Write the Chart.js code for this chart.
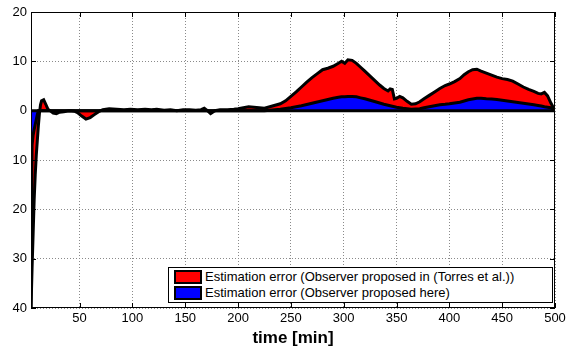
<!DOCTYPE html>
<html>
<head>
<meta charset="utf-8">
<script src="https://cdn.jsdelivr.net/npm/chart.js@4/dist/chart.umd.min.js"></script>
<style>
  body { margin: 0; background: #fff; }
  #wrap { position: relative; width: 570px; height: 347px; }
  #leyenda {
    position: absolute; left: 168px; top: 267px; width: 383px; height: 34px;
    border: 1px solid #000; background: #fff;
    font-family: "Liberation Sans", Arial, sans-serif; font-size: 13px; color: #000;
  }
  .fila { position: absolute; left: 5px; height: 14px; line-height: 14px; white-space: nowrap; }
  .caja { display: inline-block; width: 24px; height: 10px; border: 2px solid #000; vertical-align: top; margin-right: 3px; }
</style>
</head>
<body>
<div id="wrap">
  <canvas id="grafico" width="570" height="347"></canvas>
  <div id="leyenda"></div>
</div>
<script>
/* =========================
   DATOS
========================= */

const tiempo = [4, 5, 6, 7, 8, 9, 10, 11, 12, 13, 14, 16, 18, 20, 22, 25, 28, 31, 35, 40, 45, 48, 52, 56, 60, 64, 68, 72, 78, 85, 92, 98, 105, 112, 118, 123, 130, 136, 142, 148, 154, 160, 165, 168, 171, 174, 178, 183, 190, 196, 200, 205, 210, 215, 220, 225, 230, 235, 240, 245, 250, 255, 260, 265, 270, 275, 280, 285, 290, 295, 298, 301, 304, 308, 312, 316, 320, 325, 330, 334, 338, 342, 344, 346, 348, 350, 353, 356, 360, 364, 368, 372, 376, 381, 386, 391, 396, 400, 405, 410, 414, 418, 422, 426, 430, 435, 440, 445, 450, 455, 460, 465, 470, 475, 480, 484, 487, 490, 493, 496, 500];

// Error observador Torres et al. (rojo)
const errorTorres = [-40, -32, -25, -18, -13, -9, -6, -3, -0.5, 1.2, 2.0, 2.2, 1.3, 0.3, 0, -0.5, -0.6, -0.3, -0.2, 0, -0.1, -0.4, -1.1, -1.7, -1.4, -0.8, -0.2, 0.2, 0.4, 0.3, 0.2, 0.3, 0.2, 0.3, 0.2, 0.3, 0.1, 0.2, 0.0, 0.2, 0.2, 0.1, 0.2, 0.5, 0.0, -0.6, 0.0, 0.2, 0.2, 0.3, 0.4, 0.6, 0.8, 0.7, 0.6, 0.5, 0.8, 1.1, 1.4, 2.0, 2.9, 3.8, 4.8, 5.8, 6.7, 7.5, 8.3, 8.6, 9.0, 9.6, 10.0, 9.6, 10.3, 10.2, 9.6, 8.8, 8.0, 7.0, 6.0, 5.2, 4.5, 4.0, 4.4, 4.3, 2.4, 2.5, 2.9, 2.6, 1.9, 1.3, 1.4, 1.8, 2.4, 3.1, 3.8, 4.5, 5.1, 5.4, 5.9, 6.5, 7.3, 7.9, 8.3, 8.4, 8.0, 7.6, 7.2, 6.8, 6.5, 6.3, 6.0, 5.4, 4.8, 4.3, 3.9, 3.5, 3.4, 3.7, 3.0, 1.6, 0];

// Error observador propuesto (azul)
const errorPropuesto = [-40, -7, -5, -3.8, -2.8, -1.8, -0.8, 0, 0, 0, 0, 0, 0, 0, 0, 0, 0, 0, 0, 0, 0, 0, 0, 0, 0, 0, 0, 0, 0, 0, 0, 0, 0, 0, 0, 0, 0, 0, 0, 0, 0, 0, 0, 0, 0, 0, 0, 0, 0, 0, 0, 0, 0, 0, 0, 0, 0.1, 0.2, 0.3, 0.45, 0.6, 0.8, 1.0, 1.25, 1.5, 1.75, 2.0, 2.25, 2.5, 2.7, 2.8, 2.8, 2.85, 2.85, 2.8, 2.6, 2.4, 2.1, 1.8, 1.55, 1.3, 1.1, 1.0, 0.9, 0.8, 0.7, 0.6, 0.5, 0.4, 0.3, 0.35, 0.4, 0.6, 0.8, 1.0, 1.2, 1.3, 1.4, 1.55, 1.7, 1.95, 2.2, 2.35, 2.5, 2.5, 2.4, 2.35, 2.25, 2.1, 1.95, 1.8, 1.65, 1.5, 1.35, 1.2, 1.05, 0.95, 0.8, 0.7, 0.6, 0];

const etiquetas = [
  "Estimation error (Observer proposed in (Torres et al.))",
  "Estimation error (Observer proposed here)"
];
const colores = ["#ff0000", "#0000ff"];

const xTicks = [50, 100, 150, 200, 250, 300, 350, 400, 450, 500];
const yTicks = [-40, -30, -20, -10, 0, 10, 20];
const yTickLabels = ["40", "30", "20", "10", "0", "10", "20"];

/* =========================
   PLUGINS
========================= */

// marco negro, marcas hacia dentro y linea de cero
const marcoPlugin = {
  id: "marco",
  afterDatasetsDraw(chart) {
    const { ctx, chartArea: a, scales } = chart;
    const y0 = scales.y.getPixelForValue(0);
    ctx.save();
    ctx.strokeStyle = "#000";
    ctx.lineWidth = 3;
    ctx.beginPath();
    ctx.moveTo(a.left, y0);
    ctx.lineTo(a.right, y0);
    ctx.stroke();
    ctx.restore();
  },
  afterDraw(chart) {
    const { ctx, chartArea: a, scales } = chart;
    ctx.save();
    ctx.strokeStyle = "#000";
    ctx.lineWidth = 1;
    ctx.strokeRect(a.left + 0.5, a.top + 0.5, a.right - a.left - 1, a.bottom - a.top - 1);
    ctx.beginPath();
    xTicks.forEach(v => {
      const x = Math.round(scales.x.getPixelForValue(v)) + 0.5;
      ctx.moveTo(x, a.top); ctx.lineTo(x, a.top + 5);
      ctx.moveTo(x, a.bottom); ctx.lineTo(x, a.bottom - 5);
    });
    yTicks.forEach(v => {
      const y = Math.round(scales.y.getPixelForValue(v)) + 0.5;
      ctx.moveTo(a.left, y); ctx.lineTo(a.left + 5, y);
      ctx.moveTo(a.right, y); ctx.lineTo(a.right - 5, y);
    });
    ctx.stroke();
    ctx.restore();
  }
};

/* =========================
   GRAFICO
========================= */

const fuente = { family: "'Liberation Sans', Arial, sans-serif", size: 13 };

function serie(valores, i, orden) {
  return {
    label: etiquetas[i],
    data: tiempo.map((t, k) => ({ x: t, y: valores[k] })),
    backgroundColor: colores[i],
    borderColor: "#000",
    borderWidth: 3,
    pointRadius: 0,
    tension: 0,
    fill: "origin",
    order: orden
  };
}

new Chart(document.getElementById("grafico"), {
  type: "line",
  data: {
    datasets: [serie(errorTorres, 0, 2), serie(errorPropuesto, 1, 1)]
  },
  options: {
    responsive: false,
    animation: false,
    layout: { padding: { top: 12, right: 15, left: 0, bottom: 0 } },
    plugins: { legend: { display: false }, tooltip: { enabled: false } },
    scales: {
      x: {
        type: "linear",
        min: 4,
        max: 500,
        afterBuildTicks: s => { s.ticks = xTicks.map(v => ({ value: v })); },
        afterFit: s => { s.height = 39; },
        grid: { color: "#8a8a8a", lineWidth: 1, drawTicks: false },
        border: { display: false, dash: [1, 2] },
        ticks: { color: "#000", font: fuente, padding: 3, maxRotation: 0 },
        title: {
          display: true,
          text: "time [min]",
          color: "#000",
          font: { family: "'Liberation Sans', Arial, sans-serif", size: 17, weight: "bold" },
          padding: { top: 0, bottom: -2 }
        }
      },
      y: {
        min: -40,
        max: 20,
        afterBuildTicks: s => { s.ticks = yTicks.map(v => ({ value: v })); },
        afterFit: s => { s.width = 31; },
        grid: { color: "#8a8a8a", lineWidth: 1, drawTicks: false },
        border: { display: false, dash: [1, 2] },
        ticks: {
          color: "#000",
          font: fuente,
          padding: 4,
          callback: v => yTickLabels[yTicks.indexOf(v)]
        }
      }
    }
  },
  plugins: [marcoPlugin]
});

/* =========================
   LEYENDA
========================= */

const leyenda = document.getElementById("leyenda");
etiquetas.forEach((txt, i) => {
  const fila = document.createElement("div");
  fila.className = "fila";
  fila.style.top = (2 + i * 16) + "px";
  fila.innerHTML = `<span class="caja" style="background:${colores[i]}"></span>${txt}`;
  leyenda.appendChild(fila);
});
</script>
</body>
</html>
